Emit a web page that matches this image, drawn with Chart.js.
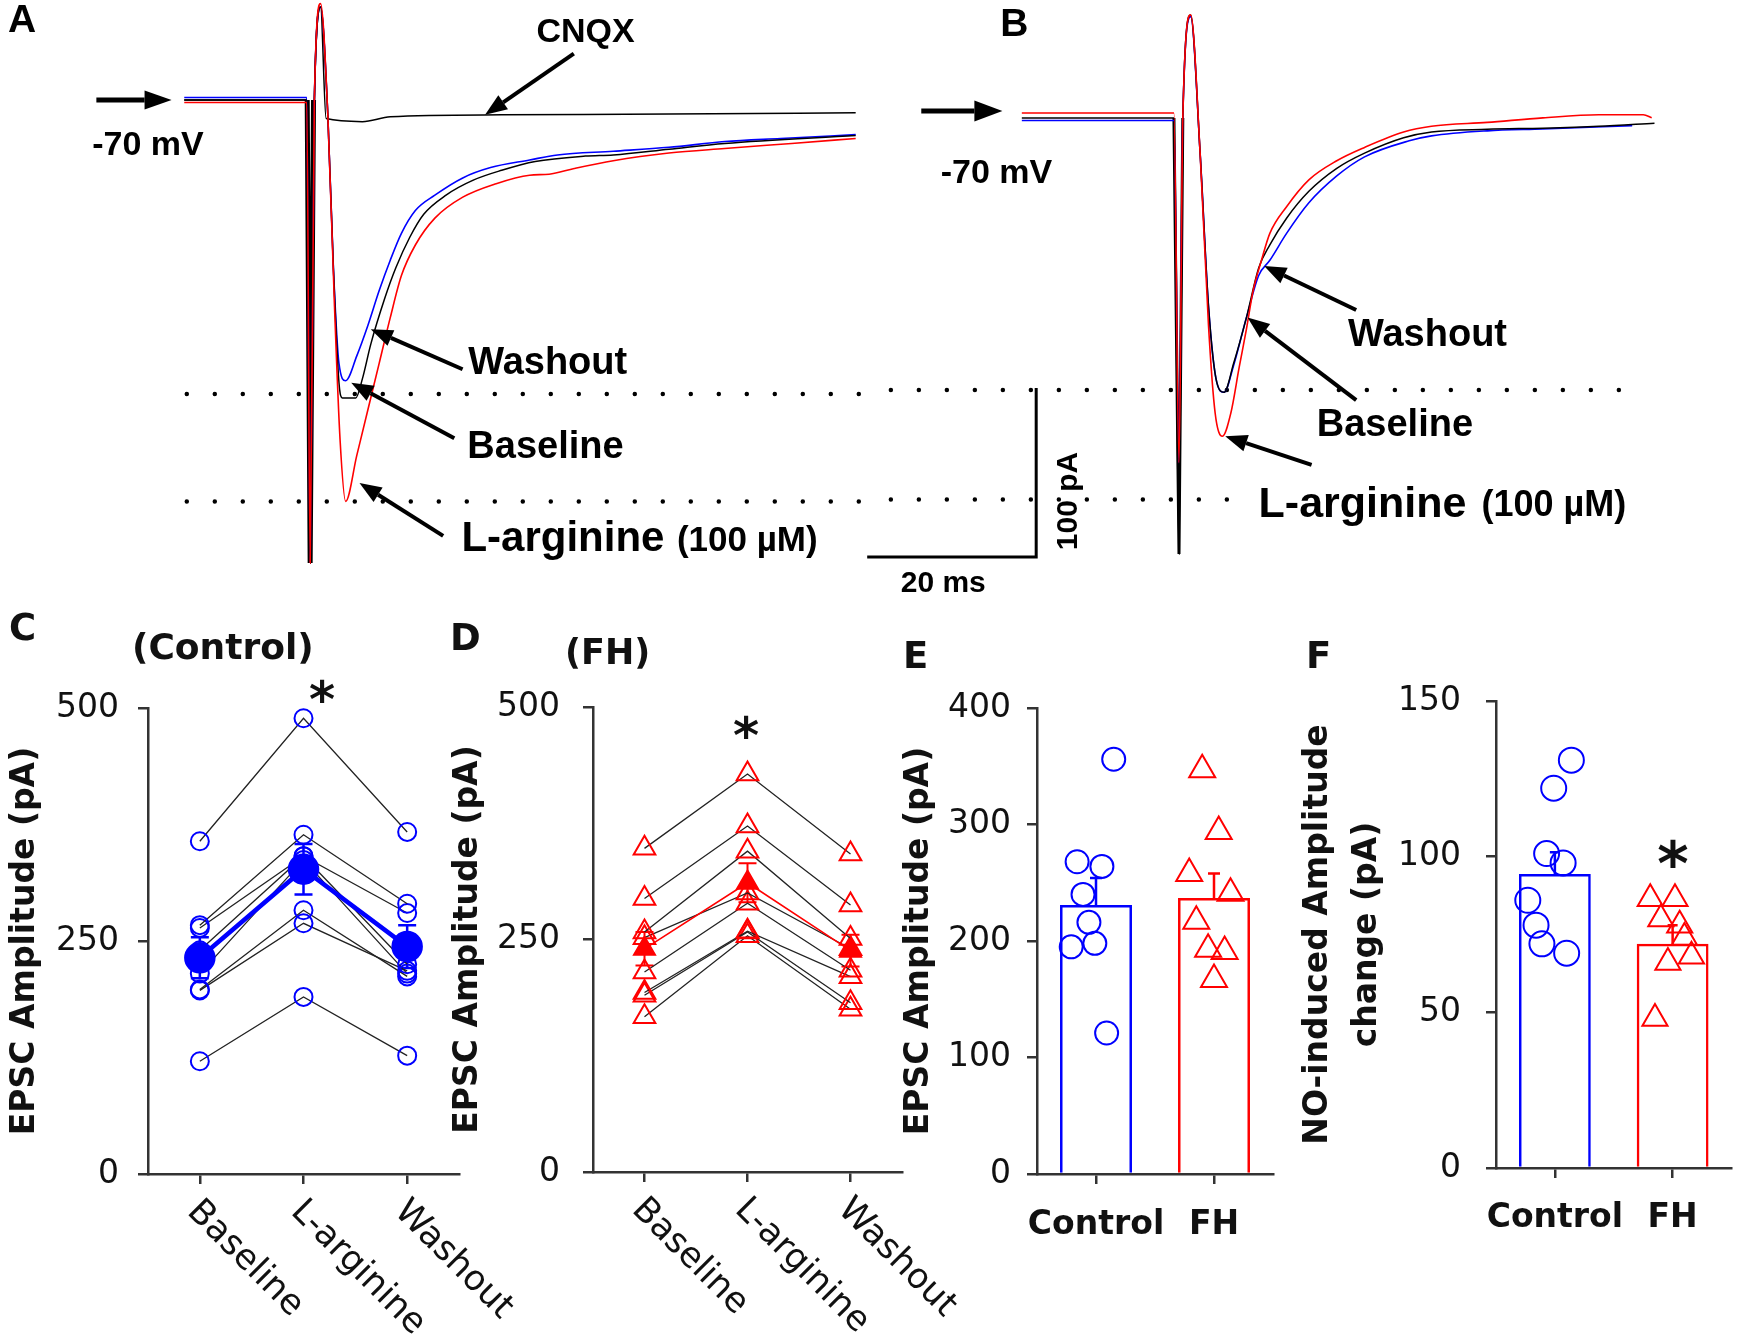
<!DOCTYPE html>
<html>
<head>
<meta charset="utf-8">
<title>EPSC amplitude, L-arginine</title>
<script src="https://cdn.jsdelivr.net/npm/chart.js@4.4.1/dist/chart.umd.min.js"></script>
<style>
  html, body { margin: 0; padding: 0; background: #fff; }
  #page { position: relative; width: 1748px; height: 1339px; overflow: hidden; }
  canvas { position: absolute; }
  .txt { position: absolute; font-family: "DejaVu Sans", sans-serif; font-weight: bold; line-height: 1; color: #111; white-space: nowrap; }
  .star { position: absolute; width: 100px; text-align: center; font-family: "DejaVu Sans", sans-serif; font-weight: bold; line-height: 1; color: #111; }
</style>
</head>
<body>
<div id="page">
  <canvas id="chartA" width="880" height="620" style="left:0px;top:0px"></canvas>
  <canvas id="chartB" width="888" height="620" style="left:860px;top:0px"></canvas>
  <canvas id="chartC" width="540" height="739" style="left:2px;top:600px"></canvas>
  <canvas id="chartD" width="540" height="739" style="left:445px;top:600px"></canvas>
  <canvas id="chartE" width="394" height="739" style="left:896px;top:600px"></canvas>
  <canvas id="chartF" width="458" height="739" style="left:1290px;top:600px"></canvas>

  <div class="txt" style="left:9px;top:609px;font-size:37px">C</div>
  <div class="txt" style="left:450px;top:619px;font-size:37px">D</div>
  <div class="txt" style="left:903px;top:637px;font-size:37px">E</div>
  <div class="txt" style="left:1306px;top:637px;font-size:37px">F</div>
  <div class="txt" style="left:132px;top:629px;font-size:36px">(Control)</div>
  <div class="txt" style="left:565px;top:635px;font-size:35px">(FH)</div>
  <div class="star" style="left:272px;top:675px;font-size:50px">*</div>
  <div class="star" style="left:696px;top:711px;font-size:50px">*</div>
  <div class="star" style="left:1623px;top:834px;font-size:60px">*</div>
</div>
<script>
// ---- A / B : EPSC traces, [ms after stimulus, pA] ----
const aBaseline = [[-15,0],[-0.5,0],[-0.1,-274],[0.4,0],[1.13,55],[1.99,-8.8],[2.65,-99.3],[3.31,-167.3],[3.71,-176.3],[5.29,-176.3],[6.08,-165],[7.07,-144.6],[8.72,-117.5],[10.04,-99.3],[11.69,-81.2],[13.34,-67.6],[15.98,-56.3],[19.27,-47.3],[22.57,-41.6],[26.53,-36.4],[32.47,-33.2],[35.77,-32.5],[42.36,-29.1],[48.96,-25.7],[64.46,-21]];
const aLarginine = [[-15,-1.5],[-0.5,-1.5],[-0.1,-274],[0.4,0],[1.13,57],[1.99,-8.8],[2.78,-122],[3.44,-201],[4.10,-237.5],[5.42,-210.3],[6.74,-183.1],[8.06,-156],[9.38,-128.8],[10.70,-103.9],[12.35,-85.8],[14.66,-69.9],[17.96,-57.5],[21.91,-49.5],[25.87,-44.5],[28.18,-43.9],[31.15,-40.5],[35.77,-35.9],[42.36,-31.4],[48.96,-28.7],[56.88,-25.7],[64.46,-22.8]];
const aWashout = [[-15,1.5],[-0.5,1.5],[-0.1,-274],[0.4,0],[1.13,55],[1.99,-8.8],[2.65,-99.3],[3.31,-155.9],[4.10,-166.1],[5.42,-151.4],[6.74,-133.3],[8.06,-112.9],[9.38,-94.8],[10.70,-78.9],[12.35,-65.4],[14.66,-56.3],[17.96,-46.1],[21.25,-40],[25.87,-35.5],[29.17,-32.5],[35.77,-30.3],[42.36,-28],[48.96,-24.6],[55.56,-22.8],[64.46,-20.5]];
const aCnqx = [[-15,0],[-0.5,0],[-0.1,-274],[0.4,0],[1.13,55],[1.79,-11],[6.08,-12.8],[9.38,-9.9],[22.57,-8.8],[42.36,-8.3],[64.46,-7.6]];
const aArtifact = [[-0.45,0],[-0.1,-274],[0.3,0]];
const aLevels = [-174, -237.5];
const aDotSpan = [-14.7, 65.4];

const bBaseline = [[-18.6,0],[-0.6,0],[0,-258],[0.45,0],[1.38,61],[2.5,-20.8],[3.49,-111.3],[4.48,-156.6],[5.34,-162.3],[6.46,-145.3],[7.98,-118.1],[9.43,-88.7],[10.75,-75.1],[12.73,-59.3],[15.37,-43.4],[18.67,-29.8],[21.96,-20.8],[26.58,-11.7],[29.88,-8.3],[36.48,-6.7],[43.07,-6],[49.67,-4.9],[56.27,-3.1]];
const bLarginine = [[-18.6,3],[-0.6,3],[0,-204],[0.45,0],[1.38,61],[2.5,-20.8],[3.49,-122.7],[4.28,-174.7],[5.14,-188.3],[6.13,-174.7],[7.12,-147.6],[7.98,-124.9],[8.77,-102.3],[9.76,-84.2],[10.75,-68.3],[12.73,-52.5],[15.37,-36.6],[18.67,-25.3],[21.96,-17.4],[26.58,-8.3],[29.88,-4.9],[36.48,-2.6],[43.07,0.1],[49.67,1.9],[54.95,1.9],[55.94,0.1]];
const bWashout = [[-18.6,-1.5],[-0.6,-1.5],[0,-204],[0.45,0],[1.38,60],[2.5,-20.8],[3.49,-111.3],[4.48,-156.6],[5.34,-162.3],[6.46,-146.4],[7.98,-118.1],[9.43,-93.2],[10.75,-84.2],[12.73,-68.3],[15.37,-50.2],[18.67,-34.3],[21.96,-23],[27.24,-13.5],[29.88,-10.6],[36.48,-7.6],[43.07,-6.5],[53.63,-4.5]];
const bArtifact = [[-0.6,0],[0,-258],[0.45,0]];
const bLevels = [-161, -225.7];
const bDotSpans = [[-34.1, 52.9], [-34.1, 6.7]];
const scaleBar = [[-36.9,-259.8],[-16.9,-259.8],[-16.9,-159.8]]; // 20 ms / 100 pA

// ---- C / D : individual cells ----
const condLabels = ['Baseline', 'L-arginine', 'Washout'];
const ctrlBaseline = [357, 267, 264, 240, 215, 198, 197, 121];
const ctrlLarg     = [489, 364, 341, 341, 337, 283, 269, 190];
const ctrlWashout  = [367, 290, 280, 225, 215, 212, 218, 127];
const ctrlMean = [232, 327, 244];
const ctrlSem  = [22, 27, 23];
const fhBaseline = [348, 294, 258, 252, 215, 193, 190, 167];
const fhLarg     = [428, 372, 345, 300, 289, 259, 258, 254];
const fhWashout  = [342, 287, 251, 240, 217, 210, 182, 175];
const fhMean = [240, 311, 238];
const fhSem  = [18, 21, 17];

// ---- E / F : group bars ----
const groups = ['Control', 'FH'];
const ampMean = [231, 237];
const ampSem = [23, 21];
const ampCtrl = [356, 268, 264, 240, 216, 195, 198, 121];
const ampCtrlJitter = [0.15, -0.16, 0.05, -0.11, -0.06, -0.21, -0.01, 0.09];
const ampFh = [347, 294, 258, 241, 217, 193, 191, 167];
const ampFhJitter = [-0.10, 0.04, -0.21, 0.14, -0.15, -0.05, 0.09, 0.0];
const dMean = [94.4, 72];
const dSem = [7, 6];
const dCtrl = [131, 122, 101, 98, 86, 78, 72, 69];
const dCtrlJitter = [0.14, -0.01, -0.07, 0.07, -0.23, -0.16, -0.11, 0.10];
const dFh = [86.5, 86.5, 80, 78, 74, 68, 66, 48];
const dFhJitter = [-0.19, 0.02, -0.10, 0.06, 0.10, 0.16, -0.04, -0.15];

const MS_PX = 8.45, PA_PX = 1.69;   // scale bar: 20 ms and 100 pA are both 169 px
const BLUE = '#0000ff', RED = '#ff0000', INK = '#111', AXIS = '#333';

function drawArrow(ctx, x1, y1, x2, y2, lw, hl, hw) {
  const a = Math.atan2(y2 - y1, x2 - x1);
  const bx = x2 - hl * Math.cos(a), by = y2 - hl * Math.sin(a);
  ctx.lineWidth = lw;
  ctx.beginPath(); ctx.moveTo(x1, y1); ctx.lineTo(bx, by); ctx.stroke();
  ctx.beginPath(); ctx.moveTo(x2, y2);
  ctx.lineTo(bx + hw / 2 * Math.sin(a), by - hw / 2 * Math.cos(a));
  ctx.lineTo(bx - hw / 2 * Math.sin(a), by + hw / 2 * Math.cos(a));
  ctx.closePath(); ctx.fill();
}

function notePlugin(items) {
  return {
    id: 'notes',
    afterDatasetsDraw(chart) {
      const { ctx, scales: { x, y } } = chart;
      ctx.save();
      ctx.fillStyle = '#000'; ctx.strokeStyle = '#000';
      items.forEach(n => {
        if (n.arrow) {
          const [t0, v0, t1, v1] = n.arrow;
          drawArrow(ctx, x.getPixelForValue(t0), y.getPixelForValue(v0),
            x.getPixelForValue(t1), y.getPixelForValue(v1), n.lw || 4, n.hl || 22, n.hw || 17);
        } else {
          ctx.font = 'bold ' + n.size + 'px "Liberation Sans", Arial, sans-serif';
          ctx.textAlign = n.align || 'left';
          ctx.textBaseline = 'middle';
          ctx.save();
          ctx.translate(x.getPixelForValue(n.x), y.getPixelForValue(n.y));
          if (n.rot) ctx.rotate(n.rot);
          ctx.fillText(n.text, 0, 0);
          ctx.restore();
        }
      });
      ctx.restore();
    }
  };
}

function trace(pairs, color, width, smooth) {
  return {
    data: pairs.map(p => ({ x: p[0], y: p[1] })),
    showLine: true, borderColor: color, borderWidth: width, pointRadius: 0,
    tension: 0, cubicInterpolationMode: smooth ? 'monotone' : 'default'
  };
}
function dotted(span, level) {
  return {
    data: [{ x: span[0], y: level }, { x: span[1], y: level }],
    showLine: true, borderColor: '#000', borderWidth: 4.5, borderDash: [0, 28],
    borderCapStyle: 'round', pointRadius: 0, tension: 0
  };
}

function makeTrace(id, stimX, baseY, sets, notes) {
  const canvas = document.getElementById(id);
  const W = canvas.width, H = canvas.height;
  return new Chart(canvas, {
    type: 'scatter',
    data: { datasets: sets },
    options: {
      responsive: false, animation: false, events: [],
      layout: { padding: 0 },
      plugins: { legend: { display: false }, tooltip: { enabled: false } },
      scales: {
        x: { type: 'linear', display: false, min: -stimX / MS_PX, max: (W - stimX) / MS_PX },
        y: { type: 'linear', display: false, min: (baseY - H) / PA_PX, max: baseY / PA_PX }
      }
    },
    plugins: [notePlugin(notes)]
  });
}

makeTrace('chartA', 311, 100, [
  trace(aLarginine, RED, 1.6, true),
  trace(aBaseline, '#000', 1.5, true),
  trace(aWashout, BLUE, 1.6, true),
  trace(aCnqx, '#000', 1.5, true),
  trace(aArtifact, '#000', 5, false),
  dotted(aDotSpan, aLevels[0]),
  dotted(aDotSpan, aLevels[1])
], [
  { text: 'A', x: -34.2, y: 46.5, size: 39, align: 'center' },
  { text: 'CNQX', x: 32.5, y: 39.6, size: 34, align: 'center' },
  { text: '-70 mV', x: -25.9, y: -27.2, size: 34 },
  { text: 'Washout', x: 18.6, y: -156, size: 38 },
  { text: 'Baseline', x: 18.5, y: -205.8, size: 38 },
  { text: 'L-arginine', x: 17.8, y: -260.1, size: 42 },
  { text: '(100 \u00b5M)', x: 43.3, y: -261.2, size: 35 },
  { arrow: [-25.4, 0, -16.5, 0], lw: 5, hl: 27, hw: 19 },
  { arrow: [31.1, 27.5, 20.6, -8.8] },
  { arrow: [17.94, -159.3, 7.07, -135.6] },
  { arrow: [16.96, -200.1, 4.76, -167.3] },
  { arrow: [15.64, -257.9, 5.74, -226.6] }
]);

makeTrace('chartB', 1179 - 860, 118, [
  trace(bLarginine, RED, 1.6, true),
  trace(bBaseline, '#000', 1.5, true),
  trace(bWashout, BLUE, 1.6, true),
  trace(bArtifact, '#000', 3, false),
  dotted(bDotSpans[0], bLevels[0]),
  dotted(bDotSpans[1], bLevels[1]),
  { ...trace(scaleBar, '#000', 3, false), borderJoinStyle: 'miter' }
], [
  { text: 'B', x: -19.5, y: 55, size: 39, align: 'center' },
  { text: '-70 mV', x: -28.2, y: -32.7, size: 34 },
  { text: 'Washout', x: 20.0, y: -128.9, size: 38 },
  { text: 'Baseline', x: 16.3, y: -182.1, size: 38 },
  { text: 'L-arginine', x: 9.42, y: -229, size: 43 },
  { text: '(100 \u00b5M)', x: 35.8, y: -229.6, size: 36 },
  { text: '100 pA', x: -13.0, y: -226.6, size: 30, align: 'center', rot: -Math.PI / 2 },
  { text: '20 ms', x: -27.9, y: -275.7, size: 30, align: 'center' },
  { arrow: [-30.5, 4.1, -20.9, 4.1], lw: 5, hl: 28, hw: 21 },
  { arrow: [20.97, -113.6, 10.08, -87.6] },
  { arrow: [20.97, -166.9, 8.11, -118.1] },
  { arrow: [15.69, -205.3, 5.47, -188.3] }
]);

// ---------- bottom panels ----------
function errorBars(items, before) {
  const draw = chart => {
    const { ctx, scales: { x, y } } = chart;
    ctx.save();
    items.forEach(e => {
      const px = x.getPixelForValue(e.x);
      const top = y.getPixelForValue(e.y + e.err);
      const bot = e.up ? y.getPixelForValue(e.y) : y.getPixelForValue(e.y - e.err);
      ctx.strokeStyle = e.color; ctx.lineWidth = e.lw;
      ctx.beginPath();
      ctx.moveTo(px, top); ctx.lineTo(px, bot);
      ctx.moveTo(px - e.cap / 2, top); ctx.lineTo(px + e.cap / 2, top);
      if (!e.up) { ctx.moveTo(px - e.cap / 2, bot); ctx.lineTo(px + e.cap / 2, bot); }
      ctx.stroke();
    });
    ctx.restore();
  };
  return before ? { id: 'errB', beforeDatasetsDraw: draw } : { id: 'errA', afterDatasetsDraw: draw };
}

function slantLabels(labels) {
  return {
    id: 'slant',
    afterDraw(chart) {
      const { ctx, scales: { x } } = chart;
      ctx.save();
      ctx.font = '35px "DejaVu Sans", sans-serif';
      ctx.fillStyle = INK;
      ctx.textAlign = 'left';
      ctx.textBaseline = 'top';
      labels.forEach((lab, i) => {
        ctx.save();
        ctx.translate(x.getPixelForValue(i) + 5, x.top + 20);
        ctx.rotate(Math.PI / 4);
        ctx.fillText(lab, 0, 0);
        ctx.restore();
      });
      ctx.restore();
    }
  };
}

function tickGrid() {
  return { display: true, drawOnChartArea: false, drawTicks: true, tickLength: 10, color: AXIS, lineWidth: 2.5, offset: false };
}

function makeBottom(id, g) {
  const canvas = document.getElementById(id);
  const W = canvas.width, H = canvas.height;
  return new Chart(canvas, {
    type: 'scatter',
    data: { datasets: g.datasets },
    options: {
      responsive: false, animation: false, events: [],
      layout: { padding: { left: 0, top: g.area.top, right: W - g.area.right, bottom: 0 } },
      plugins: { legend: { display: false }, tooltip: { enabled: false } },
      scales: {
        x: {
          type: 'linear', min: g.xMin, max: g.xMax, offset: false,
          afterBuildTicks: s => { s.ticks = g.xTicks.map(v => ({ value: v })); },
          ticks: g.xLabels
            ? { display: true, padding: g.xPad, color: INK, maxRotation: 0, autoSkip: false,
                font: { family: 'DejaVu Sans', weight: 'bold', size: 33 }, callback: v => g.xLabels[v] }
            : { display: false },
          grid: tickGrid(),
          border: { color: AXIS, width: 2.5 },
          afterFit: s => { s.height = H - g.area.bottom; }
        },
        y: {
          type: 'linear', min: g.yMin, max: g.yMax,
          ticks: { stepSize: g.yStep, padding: g.yPad, color: INK, font: { family: 'DejaVu Sans', size: 33 } },
          grid: tickGrid(),
          border: { color: AXIS, width: 2.5 },
          title: {
            display: true, text: g.yTitle, color: INK, padding: { top: 4, bottom: 0 },
            font: { family: 'DejaVu Sans', weight: 'bold', size: 33, lineHeight: g.titleLH || 1.2 }
          },
          afterFit: s => { s.width = g.area.left; }
        }
      }
    },
    plugins: g.plugins
  });
}

function cellSets(base, larg, wash, style, radius, color) {
  return base.map((b, i) => ({
    data: [{ x: 0, y: b }, { x: 1, y: larg[i] }, { x: 2, y: wash[i] }],
    showLine: true, borderColor: '#222', borderWidth: 1.3,
    pointStyle: style, pointRadius: radius, pointBorderWidth: 2,
    pointBorderColor: color, pointBackgroundColor: 'rgba(0,0,0,0)', order: 2
  }));
}
function meanSet(mean, style, radius, color, lw) {
  return {
    data: mean.map((v, i) => ({ x: i, y: v })),
    showLine: true, borderColor: color, borderWidth: lw,
    pointStyle: style, pointRadius: radius, pointBorderColor: color, pointBackgroundColor: color, order: 1
  };
}
function semItems(mean, sem, color, lw, cap) {
  return mean.map((v, i) => ({ x: i, y: v, err: sem[i], color, lw, cap, up: false }));
}

makeBottom('chartC', {
  area: { left: 146, right: 457, top: 108, bottom: 574 },
  xMin: -0.5, xMax: 2.5, xTicks: [0, 1, 2],
  yMin: 0, yMax: 500, yStep: 250, yPad: 19, yTitle: 'EPSC Amplitude (pA)',
  datasets: [meanSet(ctrlMean, 'circle', 13.5, BLUE, 4.5)]
    .concat(cellSets(ctrlBaseline, ctrlLarg, ctrlWashout, 'circle', 9, BLUE)),
  plugins: [errorBars(semItems(ctrlMean, ctrlSem, BLUE, 2.5, 18), true), slantLabels(condLabels)]
});

makeBottom('chartD', {
  area: { left: 148, right: 457, top: 107, bottom: 572 },
  xMin: -0.5, xMax: 2.5, xTicks: [0, 1, 2],
  yMin: 0, yMax: 500, yStep: 250, yPad: 23, yTitle: 'EPSC Amplitude (pA)',
  datasets: [meanSet(fhMean, 'triangle', 12.5, RED, 1.6)]
    .concat(cellSets(fhBaseline, fhLarg, fhWashout, 'triangle', 12.5, RED)),
  plugins: [errorBars(semItems(fhMean, fhSem, RED, 2, 18), true), slantLabels(condLabels)]
});

function barSet(mean) {
  return {
    type: 'bar', data: mean.map((v, i) => ({ x: i, y: v })),
    borderColor: [BLUE, RED], backgroundColor: 'rgba(0,0,0,0)', borderWidth: 2.5,
    barPercentage: 0.61, categoryPercentage: 1, order: 3
  };
}
function dotSet(vals, jitter, gi, style, radius, color) {
  return {
    data: vals.map((v, i) => ({ x: gi + jitter[i], y: v })),
    pointStyle: style, pointRadius: radius, pointBorderWidth: 2,
    pointBorderColor: color, pointBackgroundColor: 'rgba(0,0,0,0)', order: 1
  };
}

makeBottom('chartE', {
  area: { left: 141, right: 387, top: 108, bottom: 574 },
  xMin: -0.5, xMax: 1.5, xTicks: [0, 1], xLabels: groups, xPad: 22,
  yMin: 0, yMax: 400, yStep: 100, yPad: 16, yTitle: 'EPSC Amplitude (pA)',
  datasets: [
    barSet(ampMean),
    dotSet(ampCtrl, ampCtrlJitter, 0, 'circle', 11.5, BLUE),
    dotSet(ampFh, ampFhJitter, 1, 'triangle', 15, RED)
  ],
  plugins: [errorBars([
    { x: 0, y: ampMean[0], err: ampSem[0], color: BLUE, lw: 2.5, cap: 12, up: true },
    { x: 1, y: ampMean[1], err: ampSem[1], color: RED, lw: 2.5, cap: 12, up: true }
  ], false)]
});

makeBottom('chartF', {
  area: { left: 206, right: 452, top: 101, bottom: 568 },
  xMin: -0.5, xMax: 1.5, xTicks: [0, 1], xLabels: groups, xPad: 21,
  yMin: 0, yMax: 150, yStep: 50, yPad: 25, titleLH: 1.48,
  yTitle: ['NO-induced Amplitude', 'change (pA)'],
  datasets: [
    barSet(dMean),
    dotSet(dCtrl, dCtrlJitter, 0, 'circle', 12.5, BLUE),
    dotSet(dFh, dFhJitter, 1, 'triangle', 14.5, RED)
  ],
  plugins: [errorBars([
    { x: 0, y: dMean[0], err: dSem[0], color: BLUE, lw: 2.5, cap: 10, up: true },
    { x: 1, y: dMean[1], err: dSem[1], color: RED, lw: 2.5, cap: 10, up: true }
  ], false)]
});
</script>
</body>
</html>
